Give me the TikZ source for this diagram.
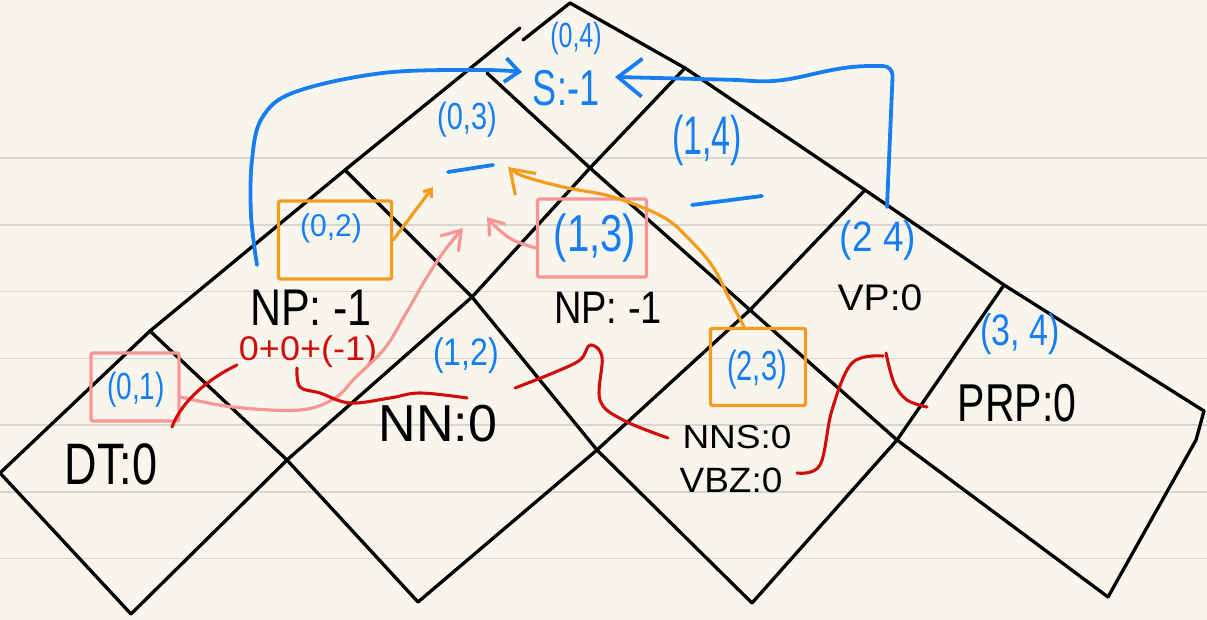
\documentclass[tikz,border=0pt]{standalone}
\usepackage{graphicx}
\usepackage{fontspec}
\setmainfont{Liberation Sans}
\usetikzlibrary{arrows.meta}
\definecolor{paper}{RGB}{248,246,236}
\definecolor{rulegray}{RGB}{214,214,210}
\definecolor{hblue}{RGB}{22,126,242}
\definecolor{horange}{RGB}{242,156,32}
\definecolor{hpink}{RGB}{246,150,150}
\definecolor{hred}{RGB}{208,12,12}
\newcommand{\hwt}[3]{\scalebox{1}[#2]{\fontsize{#1}{#1}\selectfont #3}}
\tikzset{
  grid/.style={black, line width=3.3pt},
  paperline/.style={rulegray, line width=1.6pt},
  lbl/.style={inner sep=0pt, outer sep=0pt},
  bluelbl/.style={lbl, text=hblue},
  redlbl/.style={lbl, text=hred},
  pinkbox/.style={draw=hpink, line width=3.4pt, rounded corners=2pt, inner sep=0pt},
  orangebox/.style={draw=horange, line width=3.4pt, rounded corners=2pt, inner sep=0pt},
  bluearrow/.style={hblue, line width=3.8pt},
  orangearrow/.style={horange, line width=3.2pt},
  pinkarrow/.style={hpink, line width=3.2pt},
  redline/.style={hred, line width=3.1pt},
}
\begin{document}
\begin{tikzpicture}[x=1pt, y=-1pt, line cap=round, line join=round]
\useasboundingbox (0,0) rectangle (1207,620);
\fill[paper] (0,0) rectangle (1207,620);
\foreach \yy in {158.3,225,291.7,358.3,425,491.7,558.3}
  \draw[paperline] (0,\yy) -- (1207,\yy);

% lattice points
\coordinate (L00) at (0,473);
\coordinate (L10) at (150,331);
\coordinate (L20) at (345,170);
\coordinate (L30) at (487,73);
\coordinate (L40) at (570,3);
\coordinate (L01) at (131,614);
\coordinate (L11) at (287,460);
\coordinate (L21) at (472,297);
\coordinate (L31) at (590,168);
\coordinate (L41) at (685,68);
\coordinate (L12) at (418,602);
\coordinate (L22) at (597,450);
\coordinate (L32) at (750,310);
\coordinate (L42) at (865,190);
\coordinate (L23) at (752,603);
\coordinate (L33) at (897,440);
\coordinate (L43) at (1004,285);
\coordinate (L34) at (1108,597);
\coordinate (L44) at (1204,411);

% chart lines
\draw[grid] (L00) -- (L10) -- (L20) -- (520,28);
\draw[grid] (523,40) -- (L40);
\draw[grid] (L40) -- (L41) -- (L42) -- (L43) -- (L44);
\draw[grid] (L44) -- (1196,440) -- (L34);
\draw[grid] (L00) -- (L01);
\draw[grid] (L10) -- (L11) -- (L12);
\draw[grid] (L20) -- (L21) -- (L22) -- (L23);
\draw[grid] (L30) -- (L31) -- (L32) -- (L33) -- (L34);
\draw[grid] (L01) -- (L11) -- (L21) -- (L31) -- (L41);
\draw[grid] (L12) -- (L22) -- (L32) -- (L42);
\draw[grid] (L23) -- (L33) -- (L43);

% black labels
\node[lbl] (np02) at (311,308) {\hwt{43}{1.2}{NP: -1}};
\node[lbl] (dt) at (111,464) {\hwt{45}{1.3}{DT:0}};
\node[lbl] (nn) at (438,424) {\hwt{52}{1.0}{NN:0}};
\node[lbl] (np13) at (608,308) {\hwt{38}{1.2}{NP: -1}};
\node[lbl] (vp) at (880,298) {\hwt{39}{0.95}{VP:0}};
\node[lbl] (nns) at (737,437) {\hwt{37}{0.9}{NNS:0}};
\node[lbl] (vbz) at (731,480) {\hwt{37}{0.95}{VBZ:0}};
\node[lbl] (prp) at (1017,403) {\hwt{41}{1.3}{PRP:0}};

% blue labels
\node[bluelbl] (c04) at (576,38) {\hwt{25}{1.4}{(0,4)}};
\node[bluelbl] (s) at (566,88) {\hwt{36}{1.4}{S:-1}};
\node[bluelbl] (c03) at (467,120) {\hwt{29}{1.3}{(0,3)}};
\node[bluelbl] (c14) at (707,140) {\hwt{34}{1.6}{(1,4)}};
\node[bluelbl] (c02) at (331,228) {\hwt{30}{1.05}{(0,2)}};
\node[bluelbl] (c13) at (595,238) {\hwt{40}{1.3}{(1,3)}};
\node[bluelbl] (c24) at (878,240) {\hwt{37}{1.15}{(2 4)}};
\node[bluelbl] (c12) at (466,356) {\hwt{32}{1.2}{(1,2)}};
\node[bluelbl] (c01) at (136,390) {\hwt{28}{1.35}{(0,1)}};
\node[bluelbl] (c23) at (757,370) {\hwt{29}{1.45}{(2,3)}};
\node[bluelbl] (c34) at (1020,334) {\hwt{34}{1.3}{(3, 4)}};
\draw[bluearrow] (448,172) -- (493,165);
\draw[bluearrow] (692,205) -- (762,196);

% red sum
\node[redlbl] (sum) at (308,352) {\hwt{36}{0.95}{0+0+(-1)}};

% boxes
\node[pinkbox, minimum width=88pt, minimum height=68pt] (b01) at (135,387) {};
\node[orangebox, minimum width=113pt, minimum height=78pt] (b02) at (335,240) {};
\node[pinkbox, minimum width=109pt, minimum height=78pt] (b13) at (592,238) {};
\node[orangebox, minimum width=95pt, minimum height=77pt] (b23) at (758,367) {};

% arrow ends
\coordinate (sL) at (522,72);
\coordinate (sR) at (615,77);
\coordinate (blstart) at (257,265);
\coordinate (brstart) at (887,207);
\coordinate (t02) at (433,187);
\coordinate (t03a) at (508,167);
\coordinate (t03b) at (463,228);
\coordinate (t03c) at (487,217);

% blue arrows
\draw[bluearrow, -{Straight Barb[length=14pt,width=24pt]}]
  plot[smooth, tension=0.6] coordinates {(blstart) (251,215) (252,160) (262,118) (295,92) (383,73) (480,70) (sL)};
\draw[bluearrow, rounded corners=10pt, -{Straight Barb[length=24pt,width=38pt]}]
  (brstart) -- (893,66) -- (860,66) .. controls (810,72) and (790,84) .. (740,80) -- (sR);

% orange arrows
\draw[orangearrow, -{Straight Barb[length=7pt,width=10pt]}] (b02.east) -- (t02);
\draw[orangearrow, -{Straight Barb[length=22pt,width=30pt]}]
  plot[smooth, tension=0.6] coordinates {([xshift=-14pt]b23.north) (730,300) (713,267) (690,240) (663,217) (613,197) (563,187) (523,176) (t03a)};

% pink arrows
\draw[pinkarrow, -{Straight Barb[length=18pt,width=24pt]}]
  plot[smooth, tension=0.6] coordinates {([yshift=-10pt]b01.east) (233,407) (300,410) (335,398) (355,378) (385,348) (405,315) (427,277) (445,250) (t03b)};
\draw[pinkarrow, -{Straight Barb[length=14pt,width=20pt]}]
  plot[smooth, tension=0.6] coordinates {([yshift=-10pt]b13.west) (513,240) (497,228) (t03c)};

% red connectors
\coordinate (r1a) at (172,427);
\coordinate (r1b) at (237,365);
\coordinate (r2a) at (297,368);
\coordinate (r2b) at (467,398);
\coordinate (r3a) at (515,388);
\coordinate (r3b) at (668,438);
\coordinate (r4a) at (797,473);
\coordinate (r4b) at (927,407);
\draw[redline] (r1a) .. controls (182,400) and (210,378) .. (r1b);
\draw[redline] plot[smooth, tension=0.6] coordinates {(r2a) (300,387) (320,393) (350,403) (390,398) (420,393) (r2b)};
\draw[redline] plot[smooth, tension=0.6] coordinates {(r3a) (553,373) (580,360) (590,345) (602,357) (600,400) (623,420) (r3b)};
\draw[redline] plot[smooth, tension=0.6] coordinates {(r4a) (820,465) (832,410) (852,363) (883,356)};
\draw[redline] plot[smooth, tension=0.6] coordinates {(886,353) (894,383) (907,400) (r4b)};
\end{tikzpicture}
\end{document}
